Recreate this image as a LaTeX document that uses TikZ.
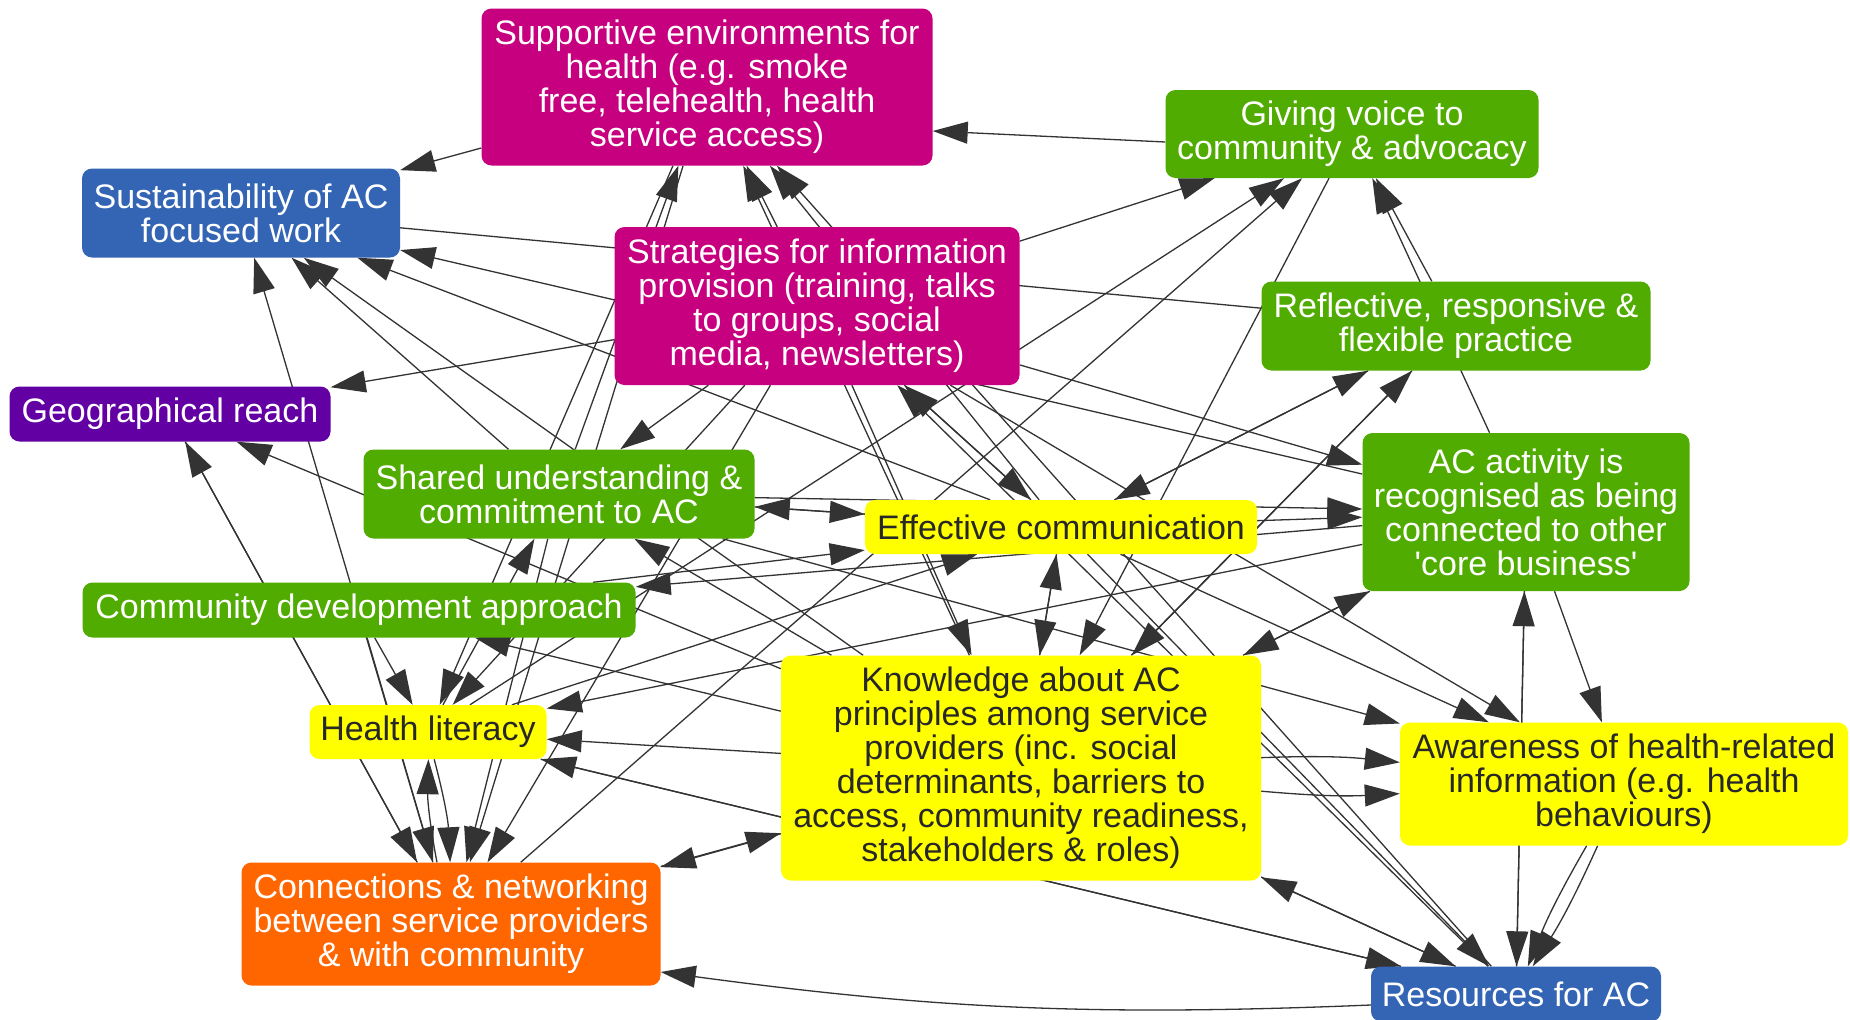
\documentclass[tikz,border=0pt]{standalone}
\usepackage{fontspec}
\setmainfont{Liberation Sans}
\usetikzlibrary{arrows.meta}
\pgfdeclarelayer{bg}
\pgfsetlayers{bg,main}
\definecolor{mag}{RGB}{198,0,126}
\definecolor{grn}{RGB}{80,172,0}
\definecolor{blu}{RGB}{52,101,181}
\definecolor{pur}{RGB}{98,0,164}
\definecolor{yel}{RGB}{255,255,0}
\definecolor{org}{RGB}{255,102,0}
\definecolor{edgec}{RGB}{51,51,51}
\definecolor{ytext}{RGB}{40,40,40}
\begin{document}
\begin{tikzpicture}[x=1pt,y=-1pt,
  box/.style={rounded corners=10pt, inner sep=0pt, align=center,
    font=\fontsize{34}{34}\selectfont, text=white},
  ybox/.style={box, fill=yel, text=ytext},
  e/.style={draw=edgec, line width=1.3pt, -{Triangle[length=35pt,width=22pt]}},
  pl/.style={draw=edgec, line width=1.3pt},
]
\useasboundingbox (0,0) rectangle (1850,1020);

\node[box, fill=mag, minimum width=451pt, minimum height=157pt] (SE) at (707,87)
  {Supportive environments for\\health (e.g. smoke\\free, telehealth, health\\service access)};
\node[box, fill=grn, minimum width=373pt, minimum height=88pt] (GV) at (1352,134)
  {Giving voice to\\community \& advocacy};
\node[box, fill=blu, minimum width=318pt, minimum height=89pt] (SU) at (241,213)
  {Sustainability of AC\\focused work};
\node[box, fill=mag, minimum width=405pt, minimum height=158pt] (ST) at (817,306)
  {Strategies for information\\provision (training, talks\\to groups, social\\media, newsletters)};
\node[box, fill=grn, minimum width=389pt, minimum height=89pt] (RF) at (1456,326)
  {Reflective, responsive \&\\flexible practice};
\node[box, fill=pur, minimum width=321pt, minimum height=55pt] (GR) at (170,414)
  {Geographical reach};
\node[box, fill=grn, minimum width=391pt, minimum height=89pt] (SH) at (559,494)
  {Shared understanding \&\\commitment to AC};
\node[box, fill=grn, minimum width=327pt, minimum height=158pt] (AA) at (1526,512)
  {AC activity is\\recognised as being\\connected to other\\\textquotesingle core business\textquotesingle};
\node[ybox, minimum width=392pt, minimum height=54pt] (EC) at (1061,527)
  {Effective communication};
\node[box, fill=grn, minimum width=553pt, minimum height=55pt] (CD) at (359,610)
  {Community development approach};
\node[ybox, minimum width=480pt, minimum height=225pt] (KN) at (1021,768)
  {Knowledge about AC\\principles among service\\providers (inc. social\\determinants, barriers to\\access, community readiness,\\stakeholders \& roles)};
\node[ybox, minimum width=237pt, minimum height=54pt] (HL) at (428,732)
  {Health literacy};
\node[ybox, minimum width=448pt, minimum height=123pt] (AW) at (1624,784)
  {Awareness of health-related\\information (e.g. health\\behaviours)};
\node[box, fill=org, minimum width=419pt, minimum height=123pt] (CN) at (451,924)
  {Connections \& networking\\between service providers\\\& with community};
\node[box, fill=blu, minimum width=290pt, minimum height=55pt] (RS) at (1516,994)
  {Resources for AC};

\begin{pgfonlayer}{bg}
\fill[white] (0,0) rectangle (1850,1020);
\draw[e] (SE) -- (SU);
\draw[e] (SE) -- (HL);
\draw[e] (SE) -- (CN);
\draw[e] ([yshift=-8pt]GV.west) -- ([yshift=-44pt]SE.east);
\draw[e] (GV) -- (KN);
\draw[pl] (SU) -- (RF);
\draw[e] (ST) -- (SE);
\draw[e] (ST) -- (GR);
\draw[e] (ST) -- (GV);
\draw[e] (ST) -- (AA);
\draw[e] (ST) -- (AW);
\draw[e] (ST) -- (SH);
\draw[e] (ST) -- (HL);
\draw[e] (ST) -- (CN);
\draw[e] (ST) -- (KN);
\draw[e] (ST) -- (EC);
\draw[e] (RF) -- (GV);
\draw[e] (RF) -- (EC);
\draw[e] (RF) -- (KN);
\draw[e] (GR) -- (CN);
\draw[e] (SH) -- (SE);
\draw[e] (SH) -- (SU);
\draw[e] (SH) -- (AA);
\draw[e] (SH) -- (AW);
\draw[e] (SH) -- (EC);
\draw[e] (SH) -- (CN);
\draw[e] (AA) -- (SU);
\draw[e] (AA) -- (CD);
\draw[e] (AA) -- (HL);
\draw[e] (AA) -- (AW);
\draw[e] (AA) -- (RS);
\draw[e] (AA) -- (GV);
\draw[e] (AA) -- (KN);
\draw[e] (EC) -- (SE);
\draw[e] (EC) -- (SU);
\draw[e] (EC) -- (ST);
\draw[e] (EC) -- (RF);
\draw[e] (EC) -- (AA);
\draw[e] (EC) -- (SH);
\draw[e] (EC) -- (KN);
\draw[e] (EC) -- (AW);
\draw[e] (EC) -- (RS);
\draw[e] (CD) -- (HL);
\draw[e] (CD) -- (CN);
\draw[e] (CD) -- (EC);
\draw[e] (KN) -- (SE);
\draw[e] (KN) -- (SU);
\draw[e] (KN) -- (GR);
\draw[e] (KN) -- (RF);
\draw[e] (KN) -- (AA);
\draw[e] (KN) -- (CD);
\draw[e] (KN) -- (HL);
\draw[e] (KN) -- (EC);
\draw[e] (KN) to[bend left=4] (AW);
\draw[e] (KN) to[bend right=4] (AW);
\draw[e] (KN) -- (CN);
\draw[e] (KN) -- (RS);
\draw[e] (KN) -- (SH);
\draw[e] (HL) -- (GV);
\draw[e] (HL) -- (SH);
\draw[e] (HL) to[bend left=6] (CN);
\draw[e] (HL) -- (EC);
\draw[e] (HL) -- (RS);
\draw[e] (AW) to[bend left=4] (RS);
\draw[e] (AW) to[bend right=4] (RS);
\draw[e] (CN) -- (SU);
\draw[e] (CN) -- (GR);
\draw[e] (CN) to[bend left=6] (HL);
\draw[e] (CN) -- (GV);
\draw[e] (CN) -- (KN);
\draw[e] (RS) -- (SE);
\draw[e] (RS) -- (ST);
\draw[e] (RS) -- (HL);
\draw[e] ([yshift=-11pt]RS.west) to[bend left=5] ([yshift=-48pt]CN.east);
\draw[e] (RS) -- (KN);
\draw[e] (RS) -- (AA);
\end{pgfonlayer}
\end{tikzpicture}
\end{document}
